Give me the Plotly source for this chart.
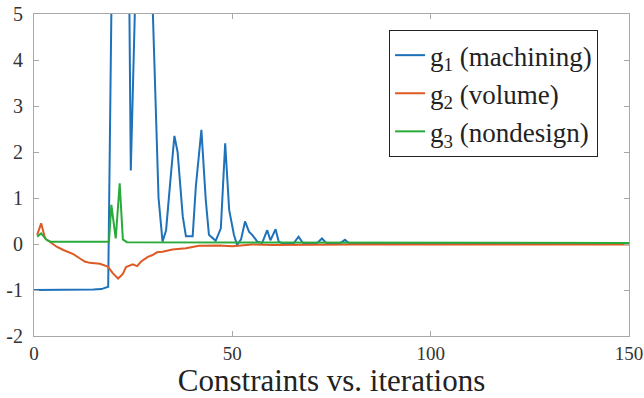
import plotly.graph_objects as go

# g1 (machining)
g1_x = [0, 10, 15, 17, 18, 18.7, 19.7, 21.7, 23.4, 24.4, 25.4, 27.5, 28.9, 30.8, 31.4, 32.4, 33.3,
        34.4, 35.4, 36.2, 37.5, 38.3, 40.0, 40.8, 41.5, 42.2, 43.3, 44.1, 45.8, 47.1, 48.2, 49.2,
        50.4, 51.2, 52.2, 53.2, 54.2, 55.0, 56.3, 57.5, 58.8, 59.6, 60.9, 61.7, 62.5, 65.5, 66.7,
        67.8, 71.4, 72.6, 73.7, 77.2, 78.4, 79.5, 150]
g1_y = [-1.0, -1.0, -0.99, -0.98, -0.96, -0.93, 6.5, 12, 11.5, 1.6, 11.5, 12, 8, 2.45, 1.0, 0.05, 0.3,
        1.4, 2.35, 2.0, 0.6, 0.17, 0.17, 1.25, 1.9, 2.48, 0.96, 0.2, 0.07, 0.34, 2.19, 0.74,
        0.2, -0.02, 0.1, 0.49, 0.27, 0.2, 0.05, 0.02, 0.3, 0.08, 0.32, 0.05, 0.02, 0.02, 0.16,
        0.02, 0.02, 0.12, 0.02, 0.02, 0.09, 0.01, 0.01]

# g2 (volume)
g2_x = [0.8, 1.8, 2.8, 4.0, 5.7, 7.4, 9.9, 11.5, 12.8, 14.0, 16.6, 18.6, 19.9, 21.2, 22.4, 23.2,
        24.9, 26.0, 27.0, 28.7, 29.9, 31.0, 32.4, 34.9, 38.3, 41.6, 46.7, 50, 55, 60, 70, 80, 150]
g2_y = [0.2, 0.45, 0.12, 0.05, -0.06, -0.13, -0.22, -0.31, -0.38, -0.41, -0.43, -0.49, -0.64, -0.75,
        -0.65, -0.5, -0.44, -0.48, -0.38, -0.28, -0.24, -0.18, -0.17, -0.12, -0.09, -0.04, -0.03,
        -0.05, -0.01, -0.02, -0.01, -0.01, -0.01]

# g3 (nondesign)
g3_x = [0.8, 1.8, 3.2, 4.2, 18.9, 19.5, 20.6, 21.6, 22.4, 23.4, 150]
g3_y = [0.16, 0.23, 0.09, 0.05, 0.05, 0.85, 0.12, 1.32, 0.1, 0.04, 0.02]

names = ["g<sub>1</sub> (machining)", "g<sub>2</sub> (volume)", "g<sub>3</sub> (nondesign)"]
colors = ["#1F72BA", "#DE5A24", "#2BAA3C"]

x_ticks = [0, 50, 100, 150]
x_ticktext = ["0", "50", "100", "150"]
y_ticks = [-2, -1, 0, 1, 2, 3, 4, 5]
y_ticktext = ["-2", "-1", "0", "1", "2", "3", "4", "5"]

fig = go.Figure()
for i, (xs, ys, nm, c) in enumerate(zip([g1_x, g2_x, g3_x], [g1_y, g2_y, g3_y], names, colors)):
    fig.add_trace(go.Scatter(x=xs, y=ys, mode="lines", name=nm, legendgroup=f"g{i}",
                             line=dict(color=c, width=2), cliponaxis=True))

serif = "Times New Roman, Liberation Serif, serif"
axis_common = dict(showgrid=False, zeroline=False, showline=True, linecolor="#A8A8A8",
                   linewidth=1, mirror="ticks", ticks="inside", ticklen=5, tickcolor="#A8A8A8",
                   automargin=False, ticklabeloverflow="allow")

fig.update_layout(
    width=644, height=398,
    font=dict(family=serif, color="#222222"),
    margin=dict(l=34, r=15, t=14, b=62),
    paper_bgcolor="white", plot_bgcolor="white",
    showlegend=True,
    legend=dict(x=0.948, y=0.95, xanchor="right", yanchor="top",
                bordercolor="#222222", borderwidth=1, bgcolor="white",
                font=dict(family=serif, size=27, color="#222222"),
                itemwidth=30, tracegroupgap=0),
    xaxis=dict(range=[0, 150], tickvals=x_ticks, ticktext=x_ticktext, ticklabelstandoff=0,
               tickfont=dict(family=serif, size=19, color="#333333"),
               title=dict(text="Constraints vs. iterations",
                          font=dict(family=serif, size=31, color="#222222"), standoff=10),
               **axis_common),
    yaxis=dict(range=[-2, 5], tickvals=y_ticks, ticktext=y_ticktext, ticklabelstandoff=6,
               tickfont=dict(family=serif, size=20, color="#333333"),
               **axis_common),
)

fig.write_html("out.html", config={"displayModeBar": False},
               post_script="document.body.style.margin='0';")
